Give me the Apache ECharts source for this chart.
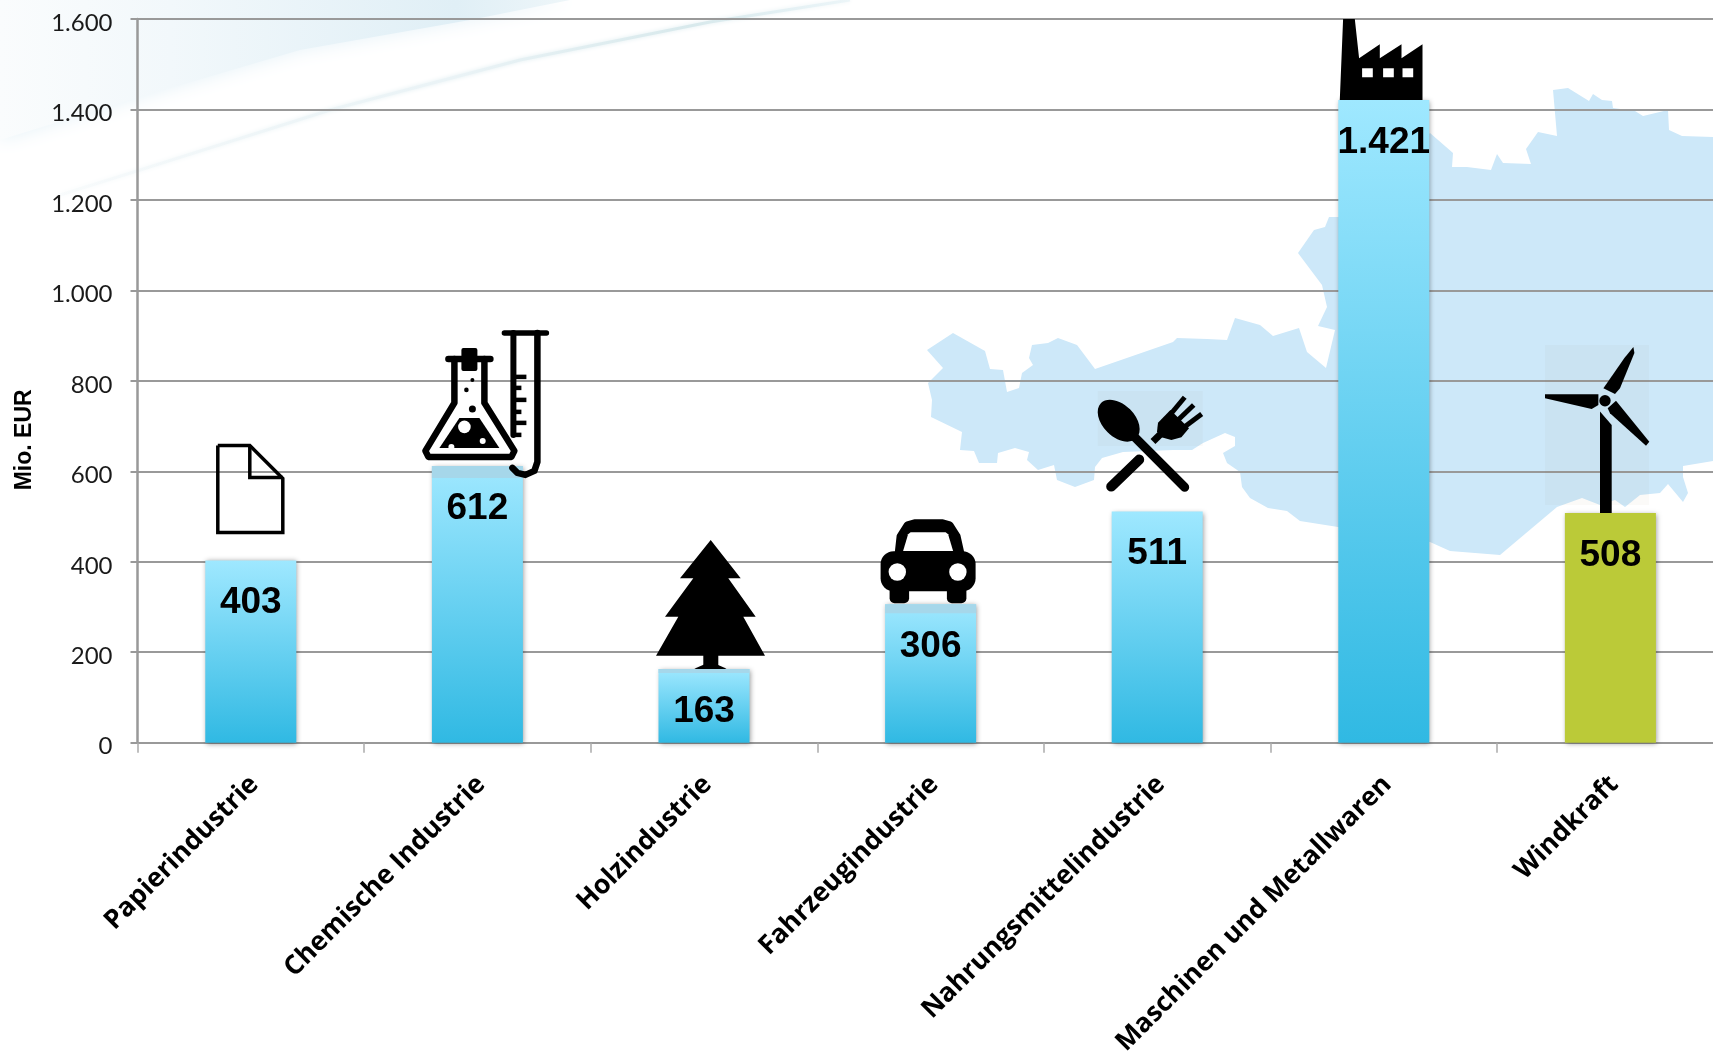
<!DOCTYPE html>
<html>
<head>
<meta charset="utf-8">
<style>html,body{margin:0;padding:0;background:#fff;overflow:hidden}#c{width:1713px;height:1053px}</style>
<script src="https://cdn.jsdelivr.net/npm/echarts@6/dist/echarts.min.js"></script>
</head>
<body>
<div id="c"></div>
<script>
const categories = ['Papierindustrie','Chemische Industrie','Holzindustrie','Fahrzeugindustrie','Nahrungsmittelindustrie','Maschinen und Metallwaren','Windkraft'];
const values = [403,612,163,306,511,1421,508];
const iconNames = ['paper','lab','tree','car','food','factory','wind'];
const axisName = 'Mio. EUR';

const fmt = v => String(v).replace(/\B(?=(\d{3})+$)/g,'.');
const K = '#000';
const poly = (points, extra={}) => ({type:'polygon',shape:{points},style:{fill:K,...extra}});
const line = (points, w, extra={}) => ({type:'polyline',shape:{points},style:{fill:null,stroke:K,lineWidth:w,lineCap:'round',lineJoin:'round',...extra}});
const circ = (cx,cy,r,fill=K) => ({type:'circle',shape:{cx,cy,r},style:{fill}});
const rect = (x,y,width,height,fill=K,r=0) => ({type:'rect',shape:{x,y,width,height,r},style:{fill}});
const strip = h => rect(-45.5,0,91,h,'#a6d7ea');
const veil = 'rgba(150,120,60,0.035)';

const icons = {
  paper: [
    line([[-33,-115],[-1,-115],[32,-82],[32,-28],[-33,-28],[-33,-115]],3.5,{lineCap:'butt',lineJoin:'miter'}),
    line([[-1,-115],[-1,-83],[32,-83]],3.5,{lineCap:'butt',lineJoin:'miter'})
  ],
  lab: [
    strip(12),
    line([[-23,-107],[-23,-63],[-52,-15],[-49,-9],[34,-9],[37,-15],[7,-63],[7,-107]],6.5),
    line([[-29,-107],[13,-107]],6.5),
    rect(-16,-118,16,23,K,2),
    poly([[-18,-48],[2,-48],[22,-18],[-38,-18]]),
    circ(-13,-39,6.3,'#fff'), circ(5.3,-25,3,'#fff'), circ(-26,-19,3,'#fff'),
    circ(-5,-57,3.5), circ(-11,-76,2.3), circ(-5,-86,2),
    line([[27,-133],[69,-133]],5.5),
    line([[36,-133],[36,-31]],6),
    line([[60,-133],[60,-4],[57,5],[48,9],[40,7],[35,2]],6.5),
    line([[38,-89],[49,-89]],4.5,{lineCap:'butt'}),
    line([[38,-78],[44,-78]],4.5,{lineCap:'butt'}),
    line([[38,-66],[49,-66]],4.5,{lineCap:'butt'}),
    line([[38,-54],[44,-54]],4.5,{lineCap:'butt'}),
    line([[38,-43],[49,-43]],4.5,{lineCap:'butt'}),
    line([[38,-31],[44,-31]],4.5,{lineCap:'butt'})
  ],
  tree: [
    poly([[6.7,-129],[36.7,-90.7],[24.3,-90.7],[51.7,-52.3],[39.3,-52.3],[61,-13.3],[-48,-13.3],[-25.7,-52.3],[-39,-52.3],[-10.7,-90.7],[-24,-90.7]]),
    rect(-0.7,-14,15,12),
    poly([[-15.7,3.7],[-8,-1],[0,-4.5],[13,-4.5],[21,-1],[27.7,3.7]]),
    strip(4)
  ],
  car: [
    strip(9),
    poly([[-32,-50],[-30,-68],[-23,-79],[-16,-81],[12,-81],[19,-79],[26,-68],[30,-50]],{stroke:K,lineWidth:8,lineJoin:'round'}),
    rect(-50,-53,95,40,K,13),
    rect(-41,-22,19.5,21,K,5),
    rect(16.3,-22,19.5,21,K,5),
    poly([[-27.5,-53.3],[-22.5,-70],[-20,-72],[15,-72],[17.5,-70],[22.5,-53.3]],{fill:'#fff'}),
    circ(-33.3,-32.3,8.7,'#fff'),
    circ(27.3,-32.3,8.7,'#fff')
  ],
  food: [
    rect(-59.5,-120.6,105,55,veil),
    {type:'ellipse',x:-38.5,y:-90.9,rotation:-Math.PI/4,shape:{cx:0,cy:0,rx:25,ry:16},style:{fill:K}},
    line([[-22,-74],[27.5,-24.3]],9),
    line([[-18,-52],[-46,-25]],10),
    line([[14.2,-98.3],[27.5,-114.3]],5,{lineCap:'butt'}),
    line([[20.8,-91.6],[36.5,-106.6]],5,{lineCap:'butt'}),
    line([[27.5,-84.9],[44.5,-97.6]],5,{lineCap:'butt'}),
    poly([[0.8,-88.9],[13.2,-101.6],[31.8,-83.3],[24.2,-74.3],[14.2,-71.6],[4.2,-74.3],[-0.2,-80]]),
    line([[-4.2,-70],[4,-78]],7,{lineCap:'butt'})
  ],
  factory: [
    poly([[-44,0],[-40.7,-81],[-29,-81],[-24.7,-41.7],[-4,-55.7],[-4,-41.7],[17.7,-55.7],[17.7,-41.7],[38.7,-55.7],[38.7,0]]),
    rect(-21.7,-31.7,10.7,9,'#fff'),
    rect(-0.7,-31.7,10.7,9,'#fff'),
    rect(18.7,-31.7,10.7,9,'#fff')
  ],
  wind: [
    rect(-65.4,-168,104,160,veil),
    circ(-5.4,-112.2,5.7),
    poly([[-10.4,0],[-10.4,-101.5],[1.3,-88],[1.3,0]]),
    poly([[-65.4,-118.6],[-65.4,-114.6],[-18.7,-103.9],[-12,-107.9],[-12,-118.6]]),
    poly([[5.6,-112.2],[38.9,-71.2],[35.6,-67.2],[-0.4,-99.6],[-2.7,-104.6]]),
    poly([[-7,-124.6],[4.6,-118.9],[9.6,-124.6],[24,-160],[23,-166],[14,-155]])
  ]
};

// decorative backdrop
const mapOutline = [[927,350],[953,333],[985,351],[990,369],[1003,370],[1007,392],[1019,388],[1022,373],[1033,365],[1029,358],[1032,345],[1048,343],[1058,338],[1077,345],[1095,369],[1173,342],[1177,338],[1207,339],[1227,340],[1235,318],[1260,325],[1273,336],[1299,328],[1307,352],[1326,368],[1335,330],[1318,326],[1327,307],[1322,285],[1298,253],[1314,230],[1325,227],[1329,217],[1345,217],[1430,133],[1453,153],[1452,167],[1467,167],[1491,170],[1497,154],[1503,163],[1531,164],[1526,149],[1538,132],[1557,136],[1553,90],[1568,88],[1589,101],[1593,94],[1602,100],[1612,101],[1613,108],[1635,111],[1643,116],[1668,110],[1669,130],[1682,136],[1713,137],[1713,461],[1683,466],[1683,477],[1688,493],[1683,502],[1668,484],[1660,493],[1640,495],[1625,507],[1615,500],[1600,505],[1582,498],[1557,507],[1500,555],[1450,551],[1430,542],[1338,527],[1300,521],[1287,511],[1268,508],[1250,498],[1242,487],[1240,472],[1227,463],[1223,453],[1235,446],[1235,437],[1225,433],[1203,443],[1192,450],[1173,450],[1123,452],[1102,458],[1095,467],[1094,480],[1075,487],[1057,480],[1054,465],[1038,470],[1027,460],[1029,452],[1015,448],[998,453],[997,463],[979,463],[974,451],[960,450],[962,432],[931,417],[932,400],[928,383],[943,368]];
const swooshOutline = [[0,0],[570,0],[470,20],[300,50],[130,100],[0,140]];
const streakLine = [[60,195],[140,170],[330,110],[520,60],[710,22],[850,0]];

const chart = echarts.init(document.getElementById('c'),null,{renderer:'canvas'});
chart.setOption({
  animation:false,
  backgroundColor:'#fff',
  graphic:{elements:[
    {type:'polygon',z:-20,silent:true,shape:{points:swooshOutline},
     style:{shadowBlur:18,shadowColor:'rgba(228,241,247,0.9)',fill:new echarts.graphic.LinearGradient(0,0,1,0,[{offset:0,color:'#fafcfd'},{offset:0.3,color:'#f2f8fb'},{offset:0.8,color:'#e0eff6'},{offset:1,color:'#eef6f9'}])}},
    {type:'polyline',z:-19,silent:true,shape:{points:streakLine},
     style:{fill:null,lineWidth:3,shadowBlur:4,shadowColor:'rgba(210,230,235,0.7)',stroke:new echarts.graphic.LinearGradient(0,0,1,0,[{offset:0,color:'rgba(235,243,246,0.2)'},{offset:0.5,color:'#eaf3f6'},{offset:0.8,color:'#d8e9ec'},{offset:1,color:'rgba(225,240,245,0.5)'}])}},
    {type:'polygon',z:-18,silent:true,shape:{points:mapOutline},style:{fill:'#cde8f9'}}
  ]},
  grid:{left:137.5,top:19,width:1586.2,height:723.7,containLabel:false,outerBoundsMode:'none'},
  xAxis:{type:'category',data:categories,
    axisLine:{lineStyle:{color:'#999',width:2}},
    axisTick:{show:true,length:10,lineStyle:{color:'#aaa',width:1.5}},
    axisLabel:{interval:0,rotate:45,margin:34,verticalAlign:'top',lineHeight:10,color:'#000',fontFamily:'"Open Sans"',fontWeight:'bold',fontSize:26.5}},
  yAxis:{type:'value',min:0,max:1600,interval:200,
    name:axisName,nameLocation:'middle',nameGap:101,nameRotate:90,
    nameTextStyle:{color:'#000',fontFamily:'"Liberation Sans"',fontWeight:'bold',fontSize:23,padding:[0,118,0,0]},
    axisLine:{show:true,lineStyle:{color:'#999',width:2.5}},
    axisTick:{show:true,length:7,lineStyle:{color:'#999',width:2}},
    splitLine:{lineStyle:{color:'#999',width:2}},
    axisLabel:{margin:25,color:'#1a1a1a',fontFamily:'Lato',fontSize:24,verticalAlign:'top',lineHeight:8,formatter:fmt}},
  series:[
    {type:'bar',data:values.map((v,i)=>({value:v,itemStyle:i===6?{color:'#bbca38'}:{}})),
     barWidth:91,
     itemStyle:{
       color:new echarts.graphic.LinearGradient(0,0,0,1,[{offset:0,color:'#9fe8ff'},{offset:1,color:'#30b9e3'}]),
       shadowBlur:5,shadowOffsetX:1,shadowOffsetY:1,shadowColor:'rgba(0,0,0,0.4)'},
     label:{show:true,position:'insideTop',distance:24,color:'#000',fontFamily:'"Liberation Sans"',fontWeight:'bold',fontSize:37,formatter:p=>fmt(p.value)}},
    {type:'custom',z:4,clip:false,silent:true,
     data:values.map((v,i)=>[i,v]),
     encode:{x:0,y:1},
     renderItem:(params,api)=>{
       const c = api.coord([api.value(0),api.value(1)]);
       return {type:'group',x:c[0],y:c[1],children:icons[iconNames[params.dataIndex]]};
     }}
  ]
});
</script>
</body>
</html>
